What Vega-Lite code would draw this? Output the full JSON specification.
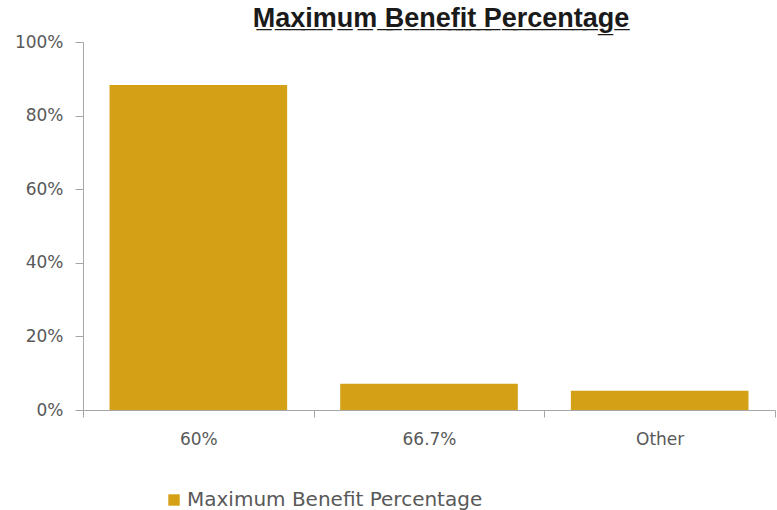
{
  "$schema": "https://vega.github.io/schema/vega-lite/v6.json",
  "width": 692,
  "height": 368,
  "autosize": "none",
  "padding": {"left": 83, "top": 42, "right": 2, "bottom": 100},
  "background": "white",
  "title": {
    "text": "M\u0332a\u0332x\u0332i\u0332m\u0332u\u0332m\u0332 \u0332B\u0332e\u0332n\u0332e\u0332f\u0332i\u0332t\u0332 \u0332P\u0332e\u0332r\u0332c\u0332e\u0332n\u0332t\u0332a\u0332g\u0332e\u0332",
    "font": "Liberation Sans",
    "fontSize": 27,
    "fontWeight": "bold",
    "color": "#1a1a1a",
    "anchor": "middle",
    "dx": 12,
    "offset": 0
  },
  "data": {
    "values": [
      {"category": "60%", "share": 0.883},
      {"category": "66.7%", "share": 0.071},
      {"category": "Other", "share": 0.052}
    ]
  },
  "mark": {"type": "bar", "width": {"band": 0.77}},
  "encoding": {
    "x": {
      "field": "category",
      "type": "nominal",
      "sort": null,
      "scale": {"paddingInner": 0, "paddingOuter": 0},
      "axis": {
        "title": null,
        "labelAngle": 0,
        "tickBand": "extent",
        "domainColor": "#A6A6A6",
        "tickColor": "#A6A6A6",
        "tickSize": 7,
        "labelFont": "DejaVu Sans",
        "labelFontSize": 17,
        "labelColor": "#595959",
        "labelPadding": 14
      }
    },
    "y": {
      "field": "share",
      "type": "quantitative",
      "scale": {"domain": [0, 1]},
      "axis": {
        "title": null,
        "format": ".0%",
        "values": [0, 0.2, 0.4, 0.6, 0.8, 1],
        "grid": false,
        "domainColor": "#A6A6A6",
        "tickColor": "#A6A6A6",
        "tickSize": 8,
        "labelFont": "DejaVu Sans",
        "labelFontSize": 17,
        "labelColor": "#595959",
        "labelPadding": 12
      }
    },
    "color": {
      "datum": "Maximum Benefit Percentage",
      "type": "nominal",
      "scale": {"range": ["#D4A015"]},
      "legend": {
        "title": null,
        "orient": "none",
        "legendX": 81,
        "legendY": 448,
        "symbolType": "square",
        "symbolSize": 130,
        "symbolStrokeWidth": 0,
        "labelFont": "DejaVu Sans",
        "labelFontSize": 20,
        "labelColor": "#595959",
        "labelOffset": 3,
        "labelLimit": 0
      }
    }
  },
  "config": {"view": {"stroke": null}}
}
